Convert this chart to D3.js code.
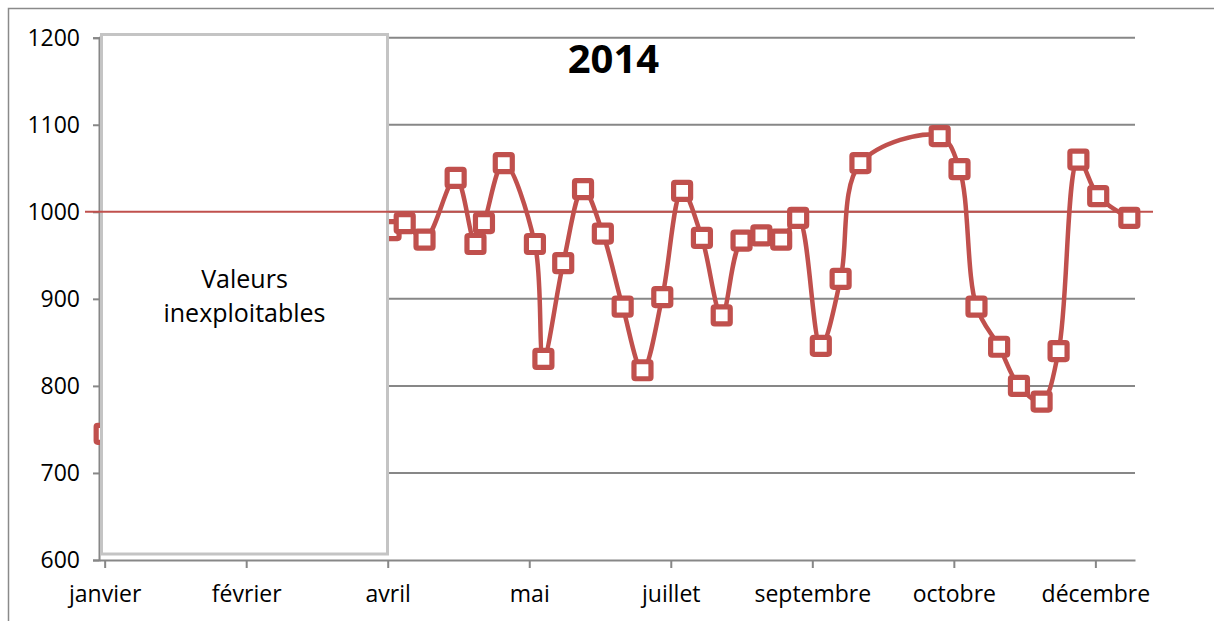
<!DOCTYPE html>
<html>
<head>
<meta charset="utf-8">
<script src="https://cdn.jsdelivr.net/npm/d3@7"></script>
<style>
  body { margin: 0; background: #fff; }
  svg { display: block; font-family: 'Open Sans', sans-serif; }
</style>
</head>
<body>
<div id="chart"></div>
<script>
const dates = [
  '2014-01-01', '2014-04-12', '2014-04-17', '2014-04-24', '2014-05-05',
  '2014-05-12', '2014-05-15', '2014-05-22', '2014-06-02', '2014-06-05',
  '2014-06-12', '2014-06-19', '2014-06-26', '2014-07-03', '2014-07-10',
  '2014-07-17', '2014-07-24', '2014-07-31', '2014-08-07', '2014-08-14',
  '2014-08-21', '2014-08-28', '2014-09-03', '2014-09-11', '2014-09-18',
  '2014-09-25', '2014-10-23', '2014-10-30', '2014-11-05', '2014-11-13',
  '2014-11-20', '2014-11-28', '2014-12-04', '2014-12-11', '2014-12-18',
  '2014-12-29',
];
const values = [
  745, 979, 987, 968, 1039,
  963, 987, 1056, 963, 831,
  941, 1026, 975, 891, 818,
  902, 1024, 970, 881, 967,
  973, 968, 993, 846, 923,
  1056, 1087, 1049, 891, 845,
  800, 782, 840, 1060, 1018,
  993,
];

// axis ticks every 50 days from Jan 1st
const xTickDates = [
  '2014-01-01', '2014-02-20', '2014-04-11', '2014-05-31',
  '2014-07-20', '2014-09-08', '2014-10-28', '2014-12-17',
];
const xTickLabels = [
  'janvier', 'février', 'avril', 'mai',
  'juillet', 'septembre', 'octobre', 'décembre',
];
const yTicks = [600, 700, 800, 900, 1000, 1100, 1200];
const xDomain = ['2013-12-30', '2014-12-31'];
const yDomain = [600, 1200];
const referenceValue = 1000;
const title = '2014';
const boxLines = ['Valeurs', 'inexploitables'];

const width = 1214;
const height = 621;
const plot = { left: 99, right: 1135, top: 37.7, bottom: 560 };
const RED = '#c0504d';
const GRID = '#878787';

const parse = d3.utcParse('%Y-%m-%d');
const data = dates.map((d, i) => ({ date: parse(d), value: values[i] }));

const svg = d3
  .select('#chart')
  .append('svg')
  .attr('width', width)
  .attr('height', height);

svg.append('rect').attr('width', width).attr('height', height).attr('fill', '#fff');

// outer chart border (only left/top visible in frame)
svg
  .append('rect')
  .attr('x', 8.5)
  .attr('y', 8.5)
  .attr('width', width + 50)
  .attr('height', height + 50)
  .attr('fill', 'none')
  .attr('stroke', '#8a8a8a')
  .attr('stroke-width', 1.5);

const x = d3
  .scaleUtc()
  .domain(xDomain.map(parse))
  .range([plot.left, plot.right]);
const y = d3
  .scaleLinear()
  .domain(yDomain)
  .range([plot.bottom, plot.top]);

// horizontal grid
svg
  .append('g')
  .selectAll('line')
  .data(yTicks.filter(t => t !== yDomain[0]))
  .join('line')
  .attr('x1', plot.left)
  .attr('x2', plot.right)
  .attr('y1', d => y(d))
  .attr('y2', d => y(d))
  .attr('stroke', GRID)
  .attr('stroke-width', 2);

// y axis
const yAxis = svg
  .append('g')
  .attr('transform', `translate(${plot.left}, 0)`)
  .call(d3.axisLeft(y).tickValues(yTicks).tickSize(6).tickPadding(13).tickFormat(d3.format('d')));
yAxis.select('.domain').attr('stroke', GRID).attr('stroke-width', 2);
yAxis.selectAll('.tick line').attr('stroke', GRID).attr('stroke-width', 2);
yAxis
  .selectAll('.tick text')
  .attr('fill', '#000')
  .style('font-size', '23px')
  .style('font-family', "'Open Sans', sans-serif");

// x axis
const xAxis = svg
  .append('g')
  .attr('transform', `translate(0, ${plot.bottom})`)
  .call(
    d3
      .axisBottom(x)
      .tickValues(xTickDates.map(parse))
      .tickSize(8)
      .tickSizeOuter(0)
      .tickPadding(18)
      .tickFormat((_, i) => xTickLabels[i]),
  );
xAxis.select('.domain').attr('stroke', GRID).attr('stroke-width', 2);
xAxis.selectAll('.tick line').attr('stroke', GRID).attr('stroke-width', 2);
xAxis
  .selectAll('.tick text')
  .attr('fill', '#000')
  .style('font-size', '23px')
  .style('font-family', "'Open Sans', sans-serif");

// smoothed series
const lineFn = d3
  .line()
  .x(d => x(d.date))
  .y(d => y(d.value))
  .curve(d3.curveCatmullRom.alpha(0.5));

svg
  .append('path')
  .datum(data)
  .attr('fill', 'none')
  .attr('stroke', RED)
  .attr('stroke-width', 4.5)
  .attr('stroke-linejoin', 'round')
  .attr('stroke-linecap', 'round')
  .attr('d', lineFn);

const MARKER = 17;
svg
  .append('g')
  .selectAll('rect')
  .data(data)
  .join('rect')
  .attr('x', d => x(d.date) - MARKER / 2)
  .attr('y', d => y(d.value) - MARKER / 2)
  .attr('width', MARKER)
  .attr('height', MARKER)
  .attr('rx', 1.5)
  .attr('fill', '#fff')
  .attr('stroke', RED)
  .attr('stroke-width', 5.2);

// "unusable values" box laid over the start of the year
const box = { x0: 101.5, x1: 387.5, y0: 34.5, y1: 554 };
svg
  .append('rect')
  .attr('x', box.x0)
  .attr('y', box.y0)
  .attr('width', box.x1 - box.x0)
  .attr('height', box.y1 - box.y0)
  .attr('fill', '#fff')
  .attr('stroke', '#c4c4c4')
  .attr('stroke-width', 3);

svg
  .append('text')
  .attr('x', (box.x0 + box.x1) / 2)
  .attr('y', 288)
  .attr('text-anchor', 'middle')
  .style('font-size', '25px')
  .selectAll('tspan')
  .data(boxLines)
  .join('tspan')
  .attr('x', (box.x0 + box.x1) / 2)
  .attr('dy', (_, i) => (i ? 34 : 0))
  .text(d => d);

// reference line at 1000
svg
  .append('line')
  .attr('x1', 85)
  .attr('x2', 1153)
  .attr('y1', y(referenceValue))
  .attr('y2', y(referenceValue))
  .attr('stroke', RED)
  .attr('stroke-width', 2);

// title
svg
  .append('text')
  .attr('x', 613.5)
  .attr('y', 73)
  .attr('text-anchor', 'middle')
  .style('font-size', '40px')
  .style('font-weight', 'bold')
  .text(title);
</script>
</body>
</html>
